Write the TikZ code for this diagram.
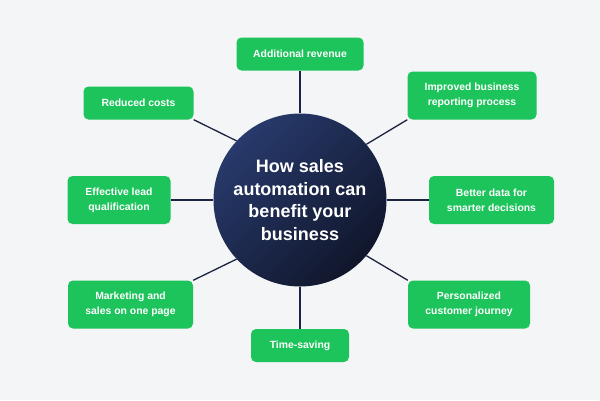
\documentclass[tikz,border=0pt]{standalone}
\usepackage{fontspec}
\setmainfont{Liberation Sans}
\usetikzlibrary{positioning,shapes}

\definecolor{bggray}{HTML}{F4F5F7}
\definecolor{boxgreen}{HTML}{1DC35B}
\definecolor{navytop}{HTML}{283A6C}
\definecolor{navybot}{HTML}{10162B}
\definecolor{linknavy}{HTML}{1B2340}

\tikzset{
  benefit/.style={rounded corners=5pt,fill=boxgreen,text=white,align=center,
    inner sep=0pt,minimum height=33pt,font=\bfseries\fontsize{10.4}{15}\selectfont},
  tall/.style={minimum height=48pt},
  link/.style={draw=linknavy,line width=1.3pt}
}

\begin{document}
\begin{tikzpicture}[x=1pt,y=-1pt]
\fill[bggray] (0,0) rectangle (600,400);
\node[circle,minimum size=173pt,inner sep=0pt,top color=navytop,bottom color=navybot,
  shading angle=45,text=white,align=center,font=\bfseries\fontsize{18}{22.5}\selectfont]
  (hub) at (300,200) {How sales\\automation can\\benefit your\\business};
\node[benefit,minimum width=127pt] (rev) at (300,54) {Additional revenue};
\node[benefit,minimum width=110pt] (cost) at (138.5,103) {Reduced costs};
\node[benefit,tall,minimum width=129pt] (report) at (472,95.5) {Improved business\\reporting process};
\node[benefit,tall,minimum width=103pt] (lead) at (119,200) {Effective lead\\qualification};
\node[benefit,tall,minimum width=125pt] (data) at (491.5,200) {Better data for\\smarter decisions};
\node[benefit,tall,minimum width=125pt] (market) at (130.5,304.5) {Marketing and\\sales on one page};
\node[benefit,tall,minimum width=122pt] (journey) at (469,304.5) {Personalized\\customer journey};
\node[benefit,minimum width=98pt] (time) at (300,345.5) {Time-saving};
\draw[link] (hub.north) -- (rev.south);
\draw[link] (hub.137) -- (cost.south east);
\draw[link] (hub.40) -- (report.south west);
\draw[link] (hub.west) -- (lead.east);
\draw[link] (hub.east) -- (data.west);
\draw[link] (hub.223) -- (market.north east);
\draw[link] (hub.320) -- (journey.north west);
\draw[link] (hub.south) -- (time.north);
\end{tikzpicture}
\end{document}
